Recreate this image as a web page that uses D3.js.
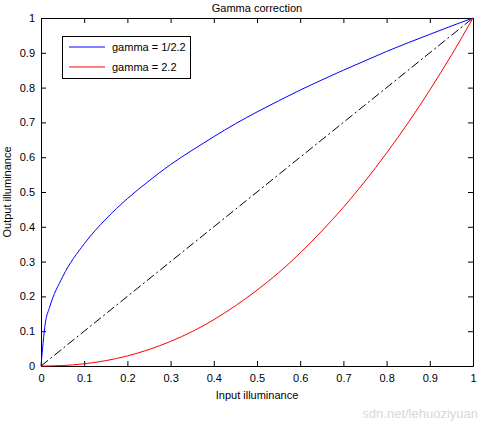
<!DOCTYPE html>
<html><head><meta charset="utf-8">
<script src="https://cdn.jsdelivr.net/npm/d3@7"></script>
<style>body{margin:0;background:#fff}text{font-family:"Liberation Sans",Arial,sans-serif;font-size:11px}</style>
</head><body><svg id="c" width="484" height="424"></svg>
<script>
const xs=[0,0.01,0.02,0.05,0.1,0.15,0.2,0.25,0.3,0.35,0.4,0.45,0.5,0.55,0.6,0.65,0.7,0.75,0.8,0.85,0.9,0.95,1];
const blueY=[0,0.123,0.169,0.256,0.351,0.422,0.481,0.532,0.579,0.620,0.659,0.696,0.730,0.762,0.793,0.822,0.850,0.877,0.904,0.929,0.953,0.977,1];
const redY=[0,0.00004,0.0002,0.0014,0.0063,0.0154,0.029,0.0474,0.0707,0.099,0.133,0.173,0.218,0.268,0.325,0.388,0.456,0.531,0.612,0.699,0.793,0.893,1];
const diagX=[0,1],diagY=[0,1];
const ticks=[0,0.1,0.2,0.3,0.4,0.5,0.6,0.7,0.8,0.9,1];
const tickLabels=["0","0.1","0.2","0.3","0.4","0.5","0.6","0.7","0.8","0.9","1"];
const legendLabels=["gamma = 1/2.2","gamma = 2.2"];

const svg=d3.select("#c");
const L=41,R=473,T=18,B=366;
const x=d3.scaleLinear().domain([0,1]).range([L,R]);
const y=d3.scaleLinear().domain([0,1]).range([B,T]);
const fmt=(d)=>tickLabels[ticks.indexOf(d)];
svg.append("g").attr("transform",`translate(0,${B})`).call(d3.axisBottom(x).tickValues(ticks).tickFormat(fmt).tickSizeInner(-5).tickSizeOuter(0).tickPadding(8));
svg.append("g").attr("transform",`translate(0,${T})`).call(d3.axisTop(x).tickValues(ticks).tickFormat("").tickSizeInner(-5).tickSizeOuter(0));
svg.append("g").attr("transform",`translate(${L},0)`).call(d3.axisLeft(y).tickValues(ticks).tickFormat(fmt).tickSizeInner(-5).tickSizeOuter(0).tickPadding(6));
svg.append("g").attr("transform",`translate(${R},0)`).call(d3.axisRight(y).tickValues(ticks).tickFormat("").tickSizeInner(-5).tickSizeOuter(0));
svg.selectAll(".domain").attr("stroke","#000");
svg.selectAll(".tick text").attr("fill","#000").style("font-size","11px");
const line=d3.line().x(d=>x(d[0])).y(d=>y(d[1])).curve(d3.curveMonotoneX);
svg.append("path").attr("d",line(xs.map((v,i)=>[v,blueY[i]]))).attr("fill","none").attr("stroke","#0000ff");
svg.append("path").attr("d",line(xs.map((v,i)=>[v,redY[i]]))).attr("fill","none").attr("stroke","#ff0000");
svg.append("path").attr("d",d3.line().x(d=>x(d[0])).y(d=>y(d[1]))(diagX.map((v,i)=>[v,diagY[i]]))).attr("fill","none").attr("stroke","#000").attr("stroke-dasharray","9,3,2,3");
svg.append("text").attr("x",(L+R)/2).attr("y",12).attr("text-anchor","middle").text("Gamma correction");
svg.append("text").attr("x",(L+R)/2).attr("y",399).attr("text-anchor","middle").text("Input illuminance");
svg.append("text").attr("transform",`translate(11,${(T+B)/2}) rotate(-90)`).attr("text-anchor","middle").text("Output illuminance");
const lg=svg.append("g");
lg.append("rect").attr("x",62.5).attr("y",36.5).attr("width",128).attr("height",42).attr("fill","#fff").attr("stroke","#000");
["#0000ff","#ff0000"].forEach((c,i)=>{
 const yy=47+i*20;
 lg.append("line").attr("x1",69).attr("x2",105).attr("y1",yy).attr("y2",yy).attr("stroke",c);
 lg.append("text").attr("x",112).attr("y",yy+4).text(legendLabels[i]);
});
svg.append("text").attr("x",478).attr("y",418).attr("text-anchor","end").attr("fill","#d8d8d8").style("font-size","13px").text("sdn.net/lehuoziyuan");
</script></body></html>
